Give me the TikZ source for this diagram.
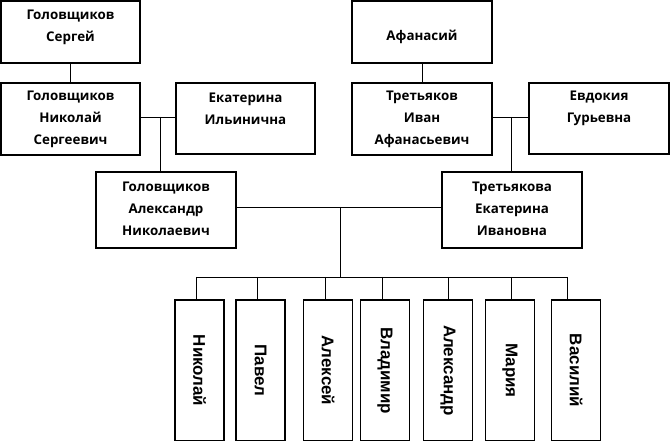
\documentclass[tikz,border=0pt]{standalone}
\usepackage{fontspec}
\newfontfamily\topfont{Open Sans}[BoldFont={* Bold}]
\newfontfamily\kidfont{Liberation Sans}
\begin{document}
\begin{tikzpicture}[x=1bp,y=-1bp,
  box/.style={draw=black,line width=1.3bp,inner sep=0pt,fill=white},
  txt/.style={align=center,inner sep=0pt,font=\topfont\bfseries\fontsize{13.4}{22}\selectfont},
  kid/.style={box,rotate=-90,minimum width=141bp,minimum height=49bp,font=\kidfont\bfseries\fontsize{17}{20}\selectfont},
  link/.style={draw=black,line width=0.9bp}]
\useasboundingbox (0,0) rectangle (670,441);
% boxes
\node[box,minimum width=139bp,minimum height=62bp] (gs) at (70.5,32) {};
\node[box,minimum width=139bp,minimum height=72bp] (gn) at (70.5,119) {};
\node[box,minimum width=139bp,minimum height=71bp] (ei) at (245.5,118.5) {};
\node[box,minimum width=140bp,minimum height=62bp] (af) at (422,32) {};
\node[box,minimum width=140bp,minimum height=72bp] (ti) at (422,119) {};
\node[box,minimum width=140bp,minimum height=71bp] (eg) at (599,118.5) {};
\node[box,minimum width=140bp,minimum height=76bp] (ga) at (166,210) {};
\node[box,minimum width=140bp,minimum height=76bp] (te) at (512,210) {};
% texts
\node[txt] (gst) at (70.5,27) {Головщиков\\Сергей};
\node[txt] (gnt) at (70.5,119) {Головщиков\\Николай\\Сергеевич};
\node[txt] (eit) at (245.5,108.5) {Екатерина\\Ильинична};
\node[txt] (aft) at (422,37) {Афанасий};
\node[txt] (tit) at (422,119) {Третьяков\\Иван\\Афанасьевич};
\node[txt] (egt) at (599,108.5) {Евдокия\\Гурьевна};
\node[txt] (gat) at (166,209) {Головщиков\\Александр\\Николаевич};
\node[txt] (tet) at (512,209) {Третьякова\\Екатерина\\Ивановна};
% children
\node[kid] (c1) at (199.5,370.5) {Николай};
\node[kid] (c2) at (260.5,370.5) {Павел};
\node[kid] (c3) at (328,370.5) {Алексей};
\node[kid] (c4) at (385,370.5) {Владимир};
\node[kid] (c5) at (448,370.5) {Александр};
\node[kid] (c6) at (510,370.5) {Мария};
\node[kid] (c7) at (576,370.5) {Василий};
% junctions
\coordinate (m1) at (160,117);
\coordinate (m2) at (511,117);
\coordinate (m3) at (340,207);
\coordinate (bus) at (340,277);
\coordinate (bl) at (196,277);
\coordinate (br) at (567,277);
\coordinate (d1) at (196,277);
\coordinate (d2) at (257,277);
\coordinate (d3) at (325,277);
\coordinate (d4) at (382,277);
\coordinate (d5) at (448,277);
\coordinate (d6) at (511,277);
\coordinate (d7) at (567,277);
% connectors
\draw[link] (gs.south) -- (gn.north);
\draw[link] (af.south) -- (ti.north);
\draw[link] (gn.east|-m1) -- (ei.west|-m1);
\draw[link] (m1) -- (m1|-ga.north);
\draw[link] (ti.east|-m2) -- (eg.west|-m2);
\draw[link] (m2) -- (m2|-te.north);
\draw[link] (ga.east|-m3) -- (te.west|-m3);
\draw[link] (m3) -- (bus);
\draw[link] (bl) -- (br);
\foreach \i in {1,...,7} {\draw[link] (d\i) -- (d\i|-c\i.west);}
\end{tikzpicture}
\end{document}
